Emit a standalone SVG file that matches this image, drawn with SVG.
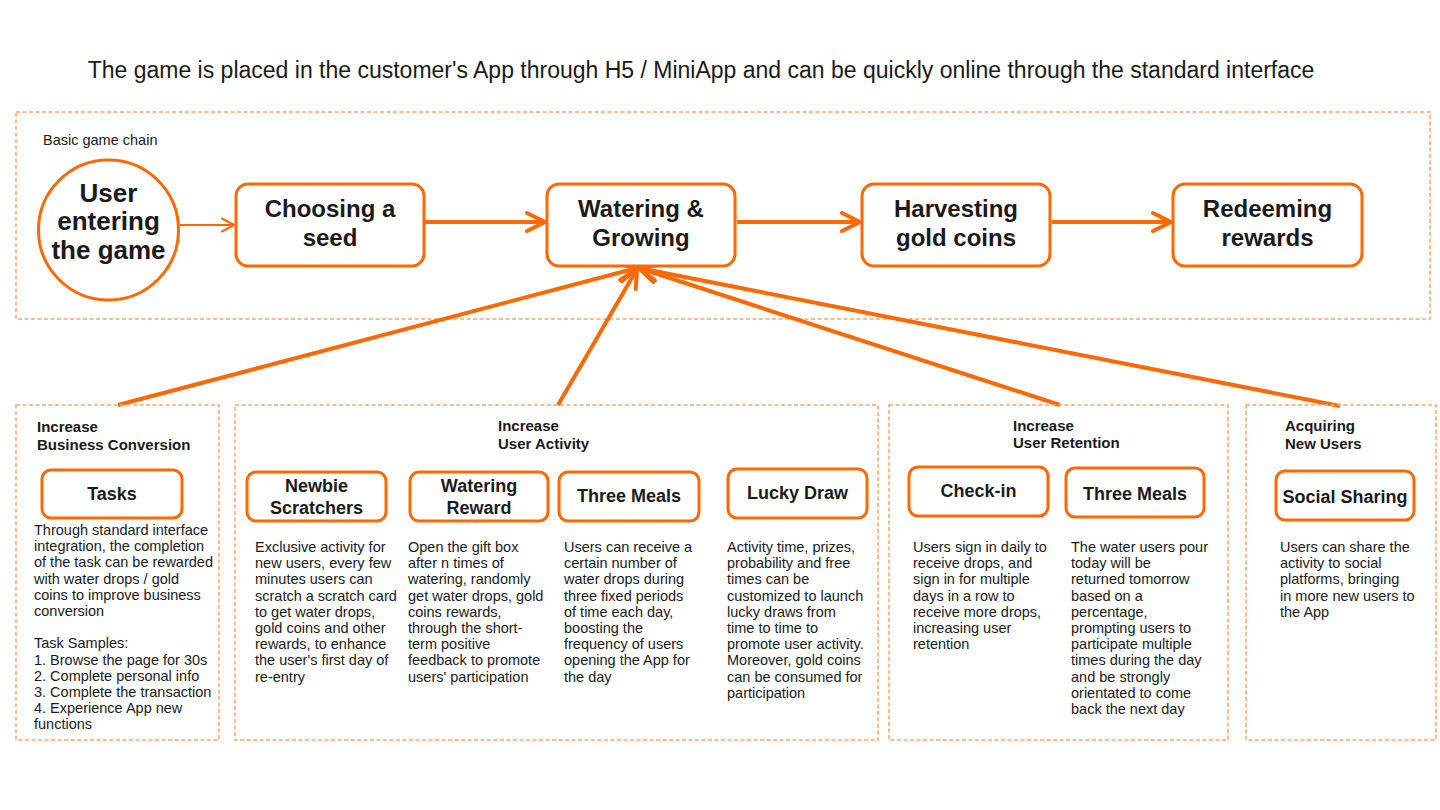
<svg xmlns="http://www.w3.org/2000/svg" width="1440" height="810" viewBox="0 0 1440 810">
<style>
text{font-family:"Liberation Sans",Arial,sans-serif;fill:#1a1a1a}
.title{font-size:23px}
.lbl{font-size:14.5px}
.h{font-size:15px;font-weight:bold}
.main{font-size:24px;font-weight:bold;text-anchor:middle}
.circ{font-size:26px;font-weight:bold;text-anchor:middle}
.sub{font-size:18px;font-weight:bold;text-anchor:middle}
.body{font-size:14.5px}
.dash{fill:none;stroke:#F9A66C;stroke-width:1.5;stroke-dasharray:4 2.5}
.node{fill:#fff;stroke:#FF6A00;stroke-width:3}
.conn{stroke:#FF6A00;stroke-width:4;fill:none;marker-end:url(#ah)}
.thin{stroke:#FF6A00;stroke-width:2;fill:none;marker-end:url(#ahs)}
</style>
<defs>
<marker id="ah" viewBox="0 0 22 22" refX="20" refY="11" markerWidth="22" markerHeight="22" markerUnits="userSpaceOnUse" orient="auto">
<path d="M2,2 L20,11 L2,20" fill="none" stroke="#FF6A00" stroke-width="4" stroke-linecap="round" stroke-linejoin="round"/>
</marker>
<marker id="ahs" viewBox="0 0 16 16" refX="14" refY="8" markerWidth="16" markerHeight="16" markerUnits="userSpaceOnUse" orient="auto">
<path d="M2,1.5 L14,8 L2,14.5" fill="none" stroke="#FF6A00" stroke-width="2" stroke-linecap="round" stroke-linejoin="round"/>
</marker>
</defs>
<rect width="1440" height="810" fill="#fff"/>
<text class="title" x="701" y="78" text-anchor="middle">The game is placed in the customer's App through H5 / MiniApp and can be quickly online through the standard interface</text>

<g id="chain-frame">
<rect class="dash" x="16" y="112" width="1414" height="207"/>
<text class="lbl" x="43" y="145">Basic game chain</text>
</g>

<g id="connectors">
<line class="thin" x1="180" y1="225" x2="234" y2="225"/>
<line class="conn" x1="425" y1="222" x2="545" y2="222"/>
<line class="conn" x1="737" y1="222" x2="860" y2="222"/>
<line class="conn" x1="1052" y1="222" x2="1171" y2="222"/>
<line class="conn" x1="118" y1="405" x2="637" y2="268"/>
<line class="conn" x1="558" y1="405" x2="637" y2="269"/>
<line class="conn" x1="1060" y1="405" x2="639" y2="268"/>
<line class="conn" x1="1340" y1="406" x2="639" y2="268"/>
</g>

<g id="user-entering">
<circle class="node" cx="108.5" cy="230" r="70"/>
<text class="circ" x="108.5" y="201.5">User</text>
<text class="circ" x="108.5" y="230">entering</text>
<text class="circ" x="108.5" y="258.5">the game</text>
</g>
<g id="choosing-seed">
<rect class="node" x="236" y="184" width="188" height="82" rx="12"/>
<text class="main" x="330" y="217">Choosing a</text>
<text class="main" x="330" y="246">seed</text>
</g>
<g id="watering-growing">
<rect class="node" x="547" y="184" width="188" height="82" rx="12"/>
<text class="main" x="641" y="217">Watering &amp;</text>
<text class="main" x="641" y="246">Growing</text>
</g>
<g id="harvesting">
<rect class="node" x="862" y="184" width="188" height="82" rx="12"/>
<text class="main" x="956" y="217">Harvesting</text>
<text class="main" x="956" y="246">gold coins</text>
</g>
<g id="redeeming">
<rect class="node" x="1173" y="184" width="189" height="82" rx="12"/>
<text class="main" x="1267.5" y="217">Redeeming</text>
<text class="main" x="1267.5" y="246">rewards</text>
</g>

<g id="business-conversion">
<rect class="dash" x="16" y="405" width="203" height="335"/>
<text class="h" x="37" y="432">Increase</text>
<text class="h" x="37" y="450">Business Conversion</text>
<g id="tasks">
<rect class="node" x="42" y="470" width="140" height="48" rx="9"/>
<text class="sub" x="112" y="500">Tasks</text>
</g>
<text class="body" x="34" y="535">
<tspan x="34" dy="0">Through standard interface</tspan>
<tspan x="34" dy="16.2">integration, the completion</tspan>
<tspan x="34" dy="16.2">of the task can be rewarded</tspan>
<tspan x="34" dy="16.2">with water drops / gold</tspan>
<tspan x="34" dy="16.2">coins to improve business</tspan>
<tspan x="34" dy="16.2">conversion</tspan>
<tspan x="34" dy="32.4">Task Samples:</tspan>
<tspan x="34" dy="16.2">1. Browse the page for 30s</tspan>
<tspan x="34" dy="16.2">2. Complete personal info</tspan>
<tspan x="34" dy="16.2">3. Complete the transaction</tspan>
<tspan x="34" dy="16.2">4. Experience App new</tspan>
<tspan x="34" dy="16.2">functions</tspan>
</text>
</g>

<g id="user-activity">
<rect class="dash" x="235" y="405" width="643" height="335"/>
<text class="h" x="498" y="431">Increase</text>
<text class="h" x="498" y="449">User Activity</text>
<g id="newbie-scratchers">
<rect class="node" x="247" y="472" width="139" height="49" rx="9"/>
<text class="sub" x="316.5" y="492">Newbie</text>
<text class="sub" x="316.5" y="514">Scratchers</text>
<text class="body" x="255" y="552">
<tspan x="255" dy="0">Exclusive activity for</tspan>
<tspan x="255" dy="16.2">new users, every few</tspan>
<tspan x="255" dy="16.2">minutes users can</tspan>
<tspan x="255" dy="16.2">scratch a scratch card</tspan>
<tspan x="255" dy="16.2">to get water drops,</tspan>
<tspan x="255" dy="16.2">gold coins and other</tspan>
<tspan x="255" dy="16.2">rewards, to enhance</tspan>
<tspan x="255" dy="16.2">the user's first day of</tspan>
<tspan x="255" dy="16.2">re-entry</tspan>
</text>
</g>
<g id="watering-reward">
<rect class="node" x="410" y="472" width="138" height="49" rx="9"/>
<text class="sub" x="479" y="492">Watering</text>
<text class="sub" x="479" y="514">Reward</text>
<text class="body" x="408" y="552">
<tspan x="408" dy="0">Open the gift box</tspan>
<tspan x="408" dy="16.2">after n times of</tspan>
<tspan x="408" dy="16.2">watering, randomly</tspan>
<tspan x="408" dy="16.2">get water drops, gold</tspan>
<tspan x="408" dy="16.2">coins rewards,</tspan>
<tspan x="408" dy="16.2">through the short-</tspan>
<tspan x="408" dy="16.2">term positive</tspan>
<tspan x="408" dy="16.2">feedback to promote</tspan>
<tspan x="408" dy="16.2">users' participation</tspan>
</text>
</g>
<g id="three-meals-activity">
<rect class="node" x="559" y="472" width="140" height="49" rx="9"/>
<text class="sub" x="629" y="502">Three Meals</text>
<text class="body" x="564" y="552">
<tspan x="564" dy="0">Users can receive a</tspan>
<tspan x="564" dy="16.2">certain number of</tspan>
<tspan x="564" dy="16.2">water drops during</tspan>
<tspan x="564" dy="16.2">three fixed periods</tspan>
<tspan x="564" dy="16.2">of time each day,</tspan>
<tspan x="564" dy="16.2">boosting the</tspan>
<tspan x="564" dy="16.2">frequency of users</tspan>
<tspan x="564" dy="16.2">opening the App for</tspan>
<tspan x="564" dy="16.2">the day</tspan>
</text>
</g>
<g id="lucky-draw">
<rect class="node" x="728" y="469" width="139" height="49" rx="9"/>
<text class="sub" x="797.5" y="499">Lucky Draw</text>
<text class="body" x="727" y="552">
<tspan x="727" dy="0">Activity time, prizes,</tspan>
<tspan x="727" dy="16.2">probability and free</tspan>
<tspan x="727" dy="16.2">times can be</tspan>
<tspan x="727" dy="16.2">customized to launch</tspan>
<tspan x="727" dy="16.2">lucky draws from</tspan>
<tspan x="727" dy="16.2">time to time to</tspan>
<tspan x="727" dy="16.2">promote user activity.</tspan>
<tspan x="727" dy="16.2">Moreover, gold coins</tspan>
<tspan x="727" dy="16.2">can be consumed for</tspan>
<tspan x="727" dy="16.2">participation</tspan>
</text>
</g>
</g>

<g id="user-retention">
<rect class="dash" x="889" y="405" width="339" height="335"/>
<text class="h" x="1013" y="431">Increase</text>
<text class="h" x="1013" y="448">User Retention</text>
<g id="check-in">
<rect class="node" x="909" y="467" width="139" height="49" rx="9"/>
<text class="sub" x="978.5" y="497">Check-in</text>
<text class="body" x="913" y="552">
<tspan x="913" dy="0">Users sign in daily to</tspan>
<tspan x="913" dy="16.2">receive drops, and</tspan>
<tspan x="913" dy="16.2">sign in for multiple</tspan>
<tspan x="913" dy="16.2">days in a row to</tspan>
<tspan x="913" dy="16.2">receive more drops,</tspan>
<tspan x="913" dy="16.2">increasing user</tspan>
<tspan x="913" dy="16.2">retention</tspan>
</text>
</g>
<g id="three-meals-retention">
<rect class="node" x="1066" y="468" width="138" height="49" rx="9"/>
<text class="sub" x="1135" y="500">Three Meals</text>
<text class="body" x="1071" y="552">
<tspan x="1071" dy="0">The water users pour</tspan>
<tspan x="1071" dy="16.2">today will be</tspan>
<tspan x="1071" dy="16.2">returned tomorrow</tspan>
<tspan x="1071" dy="16.2">based on a</tspan>
<tspan x="1071" dy="16.2">percentage,</tspan>
<tspan x="1071" dy="16.2">prompting users to</tspan>
<tspan x="1071" dy="16.2">participate multiple</tspan>
<tspan x="1071" dy="16.2">times during the day</tspan>
<tspan x="1071" dy="16.2">and be strongly</tspan>
<tspan x="1071" dy="16.2">orientated to come</tspan>
<tspan x="1071" dy="16.2">back the next day</tspan>
</text>
</g>
</g>

<g id="new-users">
<rect class="dash" x="1246" y="405" width="190" height="335"/>
<text class="h" x="1285" y="431">Acquiring</text>
<text class="h" x="1285" y="449">New Users</text>
<g id="social-sharing">
<rect class="node" x="1276" y="471" width="138" height="49" rx="9"/>
<text class="sub" x="1345" y="503">Social Sharing</text>
<text class="body" x="1280" y="552">
<tspan x="1280" dy="0">Users can share the</tspan>
<tspan x="1280" dy="16.2">activity to social</tspan>
<tspan x="1280" dy="16.2">platforms, bringing</tspan>
<tspan x="1280" dy="16.2">in more new users to</tspan>
<tspan x="1280" dy="16.2">the App</tspan>
</text>
</g>
</g>
</svg>
